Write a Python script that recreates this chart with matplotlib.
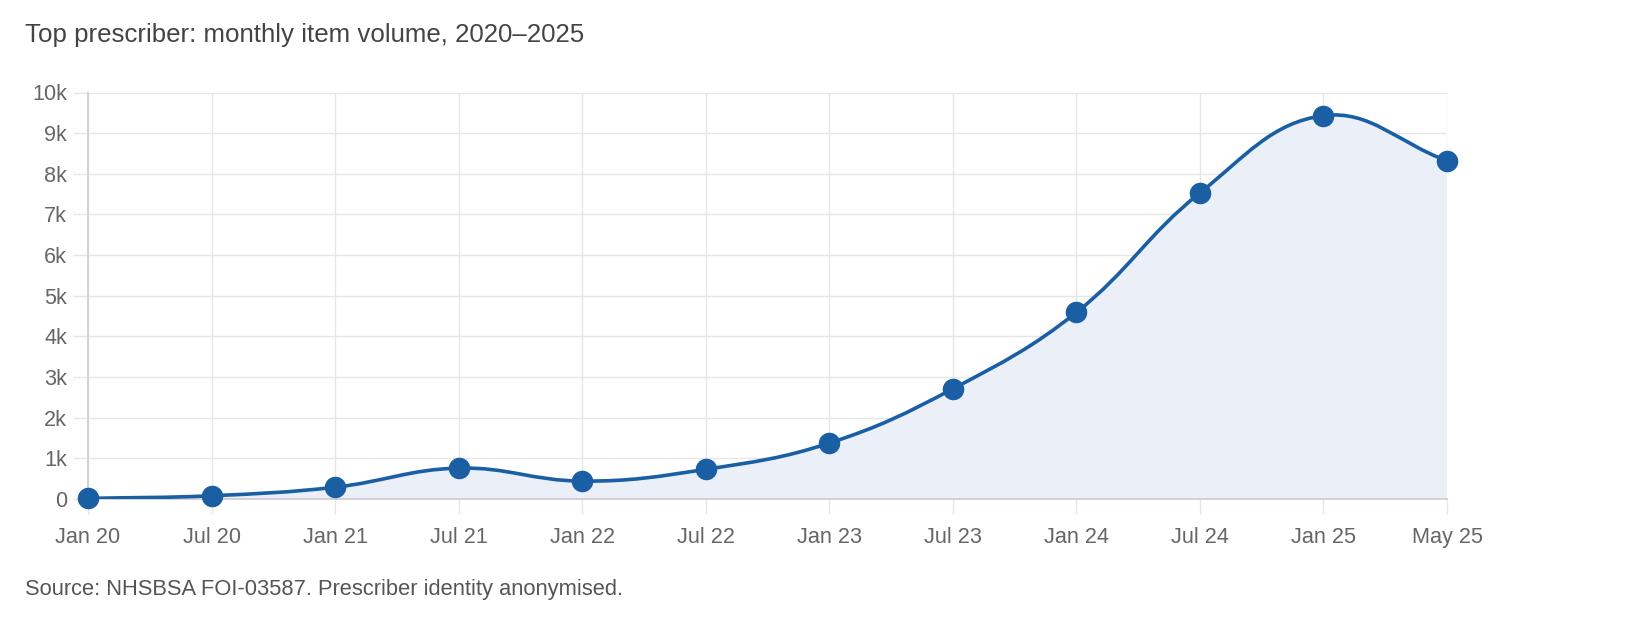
import matplotlib
matplotlib.use("Agg")
import matplotlib.pyplot as plt
import numpy as np
from matplotlib.path import Path
from matplotlib.patches import PathPatch

# data
months = ["Jan 20", "Jul 20", "Jan 21", "Jul 21", "Jan 22", "Jul 22",
          "Jan 23", "Jul 23", "Jan 24", "Jul 24", "Jan 25", "May 25"]
items = [15, 80, 290, 760, 440, 730, 1375, 2710, 4590, 7530, 9430, 8320]
y_ticks = [0, 1000, 2000, 3000, 4000, 5000, 6000, 7000, 8000, 9000, 10000]
y_labels = ["0", "1k", "2k", "3k", "4k", "5k", "6k", "7k", "8k", "9k", "10k"]

line_color = "#1a5ea4"
fill_color = "#ebf0f8"
grid_color = "#e6e6e6"
axis_color = "#d2d2d2"

plt.rcParams["font.family"] = ["Liberation Sans", "DejaVu Sans"]

W, H = 1630, 618
fig = plt.figure(figsize=(W / 100, H / 100), dpi=100)
ax = fig.add_axes([88 / W, 1 - 499 / H, (1447 - 88) / W, (499 - 92.5) / H])

x = np.arange(len(months))
y = np.array(items, dtype=float)
ax.set_xlim(0, len(months) - 1)
ax.set_ylim(0, 10000)

# chart.js style spline (tension 0.4), control points worked out in pixel space
tension = 0.4
pts = ax.transData.transform(np.column_stack([x, y]))
cp_prev = []
cp_next = []
for i in range(len(pts)):
    cur = pts[i]
    prev = pts[i - 1] if i > 0 else cur
    nxt = pts[i + 1] if i < len(pts) - 1 else cur
    d01 = np.hypot(*(cur - prev))
    d12 = np.hypot(*(nxt - cur))
    tot = d01 + d12
    s01 = d01 / tot if tot else 0
    s12 = d12 / tot if tot else 0
    cp_prev.append(cur - tension * s01 * (nxt - prev))
    cp_next.append(cur + tension * s12 * (nxt - prev))

verts = [pts[0]]
codes = [Path.MOVETO]
for i in range(len(pts) - 1):
    verts += [cp_next[i], cp_prev[i + 1], pts[i + 1]]
    codes += [Path.CURVE4] * 3
inv = ax.transData.inverted()
curve_verts = inv.transform(np.array(verts))

fill_verts = np.vstack([curve_verts, [[x[-1], 0], [x[0], 0], curve_verts[0]]])
fill_codes = codes + [Path.LINETO, Path.LINETO, Path.CLOSEPOLY]
ax.add_patch(PathPatch(Path(fill_verts, fill_codes), facecolor=fill_color,
                       edgecolor="none", zorder=1))
ax.add_patch(PathPatch(Path(curve_verts, codes), facecolor="none",
                       edgecolor=line_color, lw=2.6, zorder=3))
ax.plot(x, y, "o", color=line_color, markersize=14.5, zorder=4, clip_on=False)

# axes styling
ax.set_xticks(x)
ax.set_xticklabels(months)
ax.set_yticks(y_ticks)
ax.set_yticklabels(y_labels)
ax.grid(True, color=grid_color, lw=1.0, zorder=0)
ax.set_axisbelow(True)
for side in ["top", "right"]:
    ax.spines[side].set_visible(False)
ax.spines["left"].set_color(axis_color)
ax.spines["bottom"].set_color(axis_color)
ax.spines["left"].set_linewidth(1.4)
ax.spines["bottom"].set_linewidth(1.4)
ax.tick_params(axis="both", length=11, width=1.0, color=grid_color,
               labelcolor="#666666", labelsize=15.6)
ax.tick_params(axis="y", pad=4)
ax.tick_params(axis="x", pad=9)

fig.text(25 / W, 1 - 35 / H, "Top prescriber: monthly item volume, 2020\u20132025",
         fontsize=18.6, color="#444444", ha="left", va="center")
fig.text(25 / W, 1 - 589 / H,
         "Source: NHSBSA FOI-03587. Prescriber identity anonymised.",
         fontsize=15.75, color="#555555", ha="left", va="center")

fig.savefig("out.png", dpi=100)
